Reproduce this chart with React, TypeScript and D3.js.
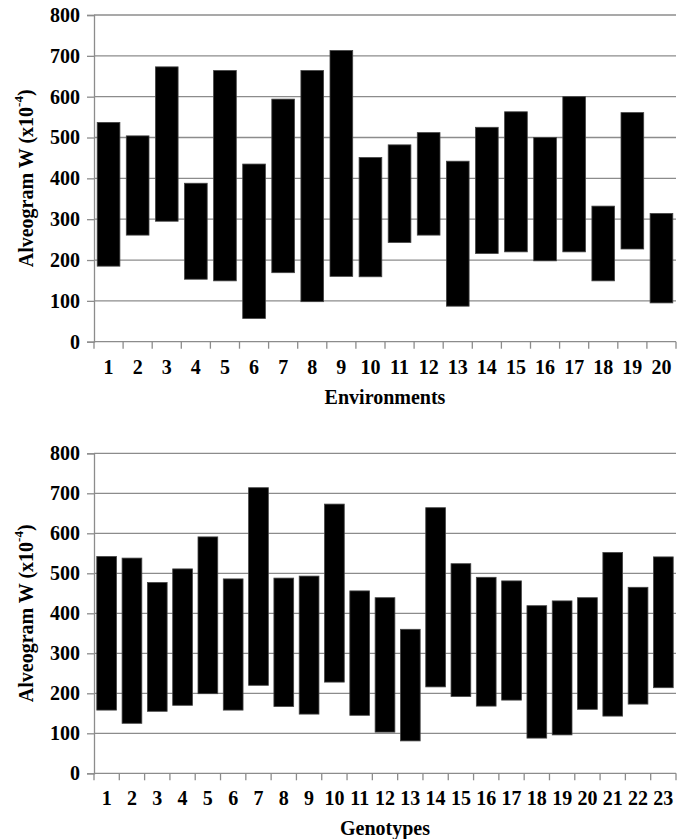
import * as d3 from 'd3';
import React, { useRef, useEffect } from 'react';

// min / max per category
const envNames = ['1','2','3','4','5','6','7','8','9','10','11','12','13','14','15','16','17','18','19','20'];
const envLow = [185, 261, 295, 153, 149, 57, 169, 98, 160, 159, 243, 261, 87, 216, 220, 198, 220, 149, 227, 95];
const envHigh = [537, 504, 673, 388, 664, 435, 594, 664, 713, 451, 482, 512, 442, 525, 563, 500, 600, 332, 561, 314];

const genoNames = ['1','2','3','4','5','6','7','8','9','10','11','12','13','14','15','16','17','18','19','20','21','22','23'];
const genoLow = [158, 125, 155, 170, 199, 158, 220, 167, 148, 228, 145, 103, 81, 216, 192, 168, 183, 88, 96, 160, 143, 173, 214];
const genoHigh = [542, 538, 477, 511, 591, 486, 714, 488, 493, 673, 456, 439, 360, 664, 524, 490, 481, 419, 431, 439, 552, 465, 541];

const yTicks = [0, 100, 200, 300, 400, 500, 600, 700, 800];

const FONT = "'Liberation Serif', 'DejaVu Serif', 'Times New Roman', serif";
const GRID = '#8c8c8c';

function styleText(sel, size) {
    return sel
        .style('font-family', FONT)
        .style('font-size', size + 'px')
        .style('font-weight', 'bold')
        .attr('fill', '#000');
}

function drawPanel(g, names, low, high, top, bottom, xTitle) {
    const left = 94, right = 676;
    const pad = 0.22;

    const x = d3.scaleBand()
        .domain(names)
        .range([left, right])
        .paddingInner(pad)
        .paddingOuter(pad / 2);
    const y = d3.scaleLinear().domain([0, 800]).range([bottom, top]);

    // gridlines
    g.selectAll('line.grid')
        .data(yTicks.slice(1)).enter()
        .append('line')
        .attr('x1', left).attr('x2', right)
        .attr('y1', d => y(d)).attr('y2', d => y(d))
        .attr('stroke', GRID).attr('stroke-width', 1.3);

    // y axis
    const yAxis = d3.axisLeft(y).tickValues(yTicks).tickSize(7).tickPadding(7);
    const ya = g.append('g').attr('transform', `translate(${left},0)`).call(yAxis);
    ya.attr('font-family', null).attr('font-size', null);
    ya.select('.domain').attr('stroke', GRID).attr('stroke-width', 1.3);
    ya.selectAll('.tick line').attr('stroke', GRID).attr('stroke-width', 1.3);
    styleText(ya.selectAll('text'), 20);

    // x axis baseline + boundary ticks
    const step = x.step();
    const bounds = d3.range(names.length + 1).map(i => left + i * step);
    g.append('line')
        .attr('x1', left).attr('x2', right)
        .attr('y1', y(0)).attr('y2', y(0))
        .attr('stroke', GRID).attr('stroke-width', 1.3);
    g.selectAll('line.xtick')
        .data(bounds).enter()
        .append('line')
        .attr('x1', d => d).attr('x2', d => d)
        .attr('y1', y(0)).attr('y2', y(0) + 7)
        .attr('stroke', GRID).attr('stroke-width', 1.3);

    // bars
    g.selectAll('rect.bar')
        .data(names).enter()
        .append('rect')
        .attr('x', d => x(d))
        .attr('width', x.bandwidth())
        .attr('y', (d, i) => y(high[i]))
        .attr('height', (d, i) => y(low[i]) - y(high[i]))
        .attr('fill', '#000')
        .attr('stroke', '#444')
        .attr('stroke-width', 0.8);

    // category labels
    styleText(g.selectAll('text.xlab')
        .data(names).enter()
        .append('text')
        .attr('x', d => x(d) + x.bandwidth() / 2)
        .attr('y', y(0) + 25)
        .attr('dy', '0.35em')
        .attr('text-anchor', 'middle')
        .text(d => d), 20);

    styleText(g.append('text')
        .attr('x', (left + right) / 2)
        .attr('y', y(0) + 55)
        .attr('dy', '0.35em')
        .attr('text-anchor', 'middle')
        .text(xTitle), 20);

    // y title with superscript
    const yt = styleText(g.append('text')
        .attr('transform', `translate(26,${(top + bottom) / 2}) rotate(-90)`)
        .attr('dy', '0.35em')
        .attr('text-anchor', 'middle'), 20);
    yt.append('tspan').text('Alveogram W (x10');
    yt.append('tspan').style('font-size', '13px').attr('dy', '-0.8em').text('-4');
    yt.append('tspan').attr('dy', '0.45em').text(')');
}

function App() {
    const ref = useRef(null);

    useEffect(() => {
        const svg = d3.select(ref.current);
        svg.selectAll('*').remove();
        svg.append('rect').attr('width', 686).attr('height', 839).attr('fill', '#fff');

        drawPanel(svg.append('g'), envNames, envLow, envHigh, 15, 341.7, 'Environments');
        drawPanel(svg.append('g'), genoNames, genoLow, genoHigh, 453.3, 773.3, 'Genotypes');
    }, []);

    return (
        <svg ref={ref} width={686} height={839}
            style={{ position: 'absolute', left: 0, top: 0, display: 'block' }}>
        </svg>
    );
}

export default App;
